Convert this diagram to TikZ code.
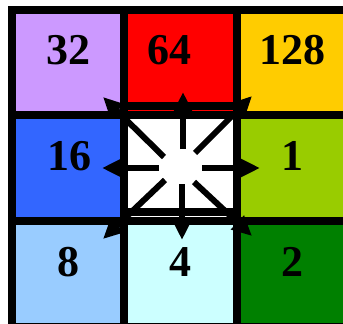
\documentclass[tikz,border=0pt]{standalone}
\usepackage{fontspec}
\setmainfont{Liberation Serif}
\usetikzlibrary{arrows.meta}
\definecolor{lilac}{HTML}{CC99FF}
\definecolor{hotred}{HTML}{FF0000}
\definecolor{amber}{HTML}{FFCC00}
\definecolor{royal}{HTML}{3366FF}
\definecolor{lime}{HTML}{99CC00}
\definecolor{sky}{HTML}{99CCFF}
\definecolor{ice}{HTML}{CCFFFF}
\definecolor{leaf}{HTML}{008000}
\tikzset{
  gridline/.style={line width=8pt, line cap=square},
  ringline/.style={line width=8pt},
  numlabel/.style={font=\fontsize{44}{44}\selectfont\bfseries, inner sep=0pt, text=black},
  spoke/.style={-{Triangle[length=20pt,width=18pt]}, line width=6pt}}
\begin{document}
\begin{tikzpicture}[x=1pt, y=-1pt]
  \useasboundingbox (0,0) rectangle (343,324);
  % cell fills
  \fill[lilac]   (12,10)   rectangle (124,115);
  \fill[hotred]  (124,10)  rectangle (237,115);
  \fill[amber]   (237,10)  rectangle (349,115);
  \fill[royal]   (12,115)  rectangle (124,221);
  \fill[white]   (124,115) rectangle (237,221);
  \fill[lime]    (237,115) rectangle (349,221);
  \fill[sky]     (12,221)  rectangle (124,327);
  \fill[ice]     (124,221) rectangle (237,327);
  \fill[leaf]    (237,221) rectangle (349,327);
  % grid
  \draw[gridline] (12,10) rectangle (349,327);
  \draw[gridline] (124,10) -- (124,327);
  \draw[gridline] (237,10) -- (237,327);
  \draw[gridline] (12,115) -- (349,115);
  \draw[gridline] (12,221) -- (349,221);
  % centre square
  \draw[ringline] (124,106) rectangle (237,212);

  \node[numlabel] (n32)  at (68,50)   {32};
  \node[numlabel] (n64)  at (169,50)  {64};
  \node[numlabel] (n128) at (292,50)  {128};
  \node[numlabel] (n16)  at (69,156)  {16};
  \node[numlabel] (n1)   at (292,156) {1};
  \node[numlabel] (n8)   at (68,262)  {8};
  \node[numlabel] (n4)   at (180,262) {4};
  \node[numlabel] (n2)   at (292,262) {2};

  % spokes
  \coordinate (up-from) at (183,149);   \coordinate (up-to) at (183,92);
  \coordinate (dn-from) at (182,184);   \coordinate (dn-to) at (182,240);
  \coordinate (lf-from) at (159,168);   \coordinate (lf-to) at (102,168);
  \coordinate (rt-from) at (202,168);   \coordinate (rt-to) at (260,168);
  \coordinate (ul-from) at (164,157);   \coordinate (ul-to) at (103,97);
  \coordinate (ur-from) at (195,153);   \coordinate (ur-to) at (252,96);
  \coordinate (ll-from) at (165,180);   \coordinate (ll-to) at (103,239);
  \coordinate (lr-from) at (194,182);   \coordinate (lr-to) at (252,236);
  \draw[spoke] (up-from) -- (up-to);
  \draw[spoke] (dn-from) -- (dn-to);
  \draw[spoke] (lf-from) -- (lf-to);
  \draw[spoke] (rt-from) -- (rt-to);
  \draw[spoke] (ul-from) -- (ul-to);
  \draw[spoke] (ur-from) -- (ur-to);
  \draw[spoke] (ll-from) -- (ll-to);
  \draw[spoke] (lr-from) -- (lr-to);
\end{tikzpicture}
\end{document}
